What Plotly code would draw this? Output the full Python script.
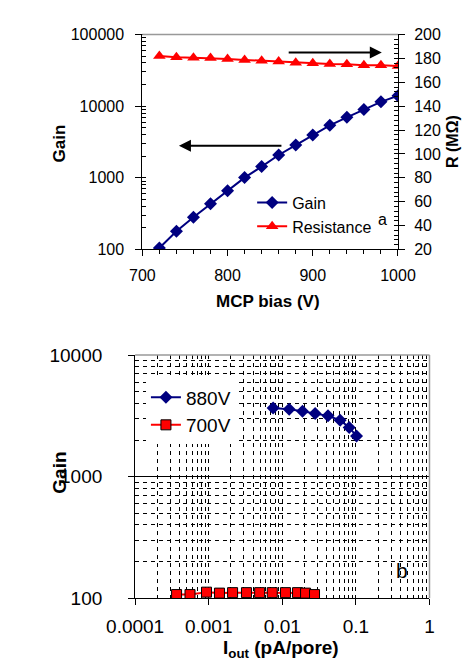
import plotly.graph_objects as go

# ---- panel a data ----
bias_v = [720, 740, 760, 780, 800, 820, 840, 860, 880, 900, 920, 940, 960, 980, 1000]
gain_a = [105, 180, 282, 435, 659, 1007, 1432, 2080, 2866, 3950, 5395, 6985, 8950, 11480, 13990]
resistance = [182, 180.9, 180.5, 180.3, 179.5, 178.7, 177.9, 177.4, 176.3, 175.8, 175.2, 175.0, 174.2, 174.2, 173.6]

# ---- panel b data ----
iout_880 = [0.0075, 0.0124, 0.0188, 0.0279, 0.0418, 0.061, 0.081, 0.102]
gain_880 = [3665, 3580, 3450, 3310, 3160, 2908, 2540, 2153]
iout_700 = [0.000366, 0.000557, 0.000933, 0.0014, 0.00211, 0.00326, 0.00492, 0.0073, 0.01104, 0.0161, 0.0207, 0.0274]
gain_700 = [107, 107, 112, 110, 111, 111, 111, 111, 111, 111, 110, 107]

gain_ticks_a = [100, 1000, 10000, 100000]
r_ticks = [20, 40, 60, 80, 100, 120, 140, 160, 180, 200]
iout_ticks = [0.0001, 0.001, 0.01, 0.1, 1]
iout_labels = ["0.0001", "0.001", "0.01", "0.1", "1"]
gain_ticks_b = [100, 1000, 10000]

FONT = "Liberation Sans, Arial, sans-serif"
W, H = 471, 667
NAVY = "#000080"
RED = "#FF0000"

fig = go.Figure()
fig.add_trace(go.Scatter(
    x=bias_v, y=gain_a, name="Gain", mode="lines+markers",
    line=dict(color=NAVY, width=2),
    marker=dict(symbol="diamond", size=10, color=NAVY),
    xaxis="x", yaxis="y", legend="legend"))
fig.add_trace(go.Scatter(
    x=bias_v, y=resistance, name="Resistance", mode="lines+markers",
    line=dict(color=RED, width=2),
    marker=dict(symbol="triangle-up", size=11, color=RED),
    xaxis="x", yaxis="y2", legend="legend"))
fig.add_trace(go.Scatter(
    x=iout_880, y=gain_880, name="880V", mode="lines+markers",
    line=dict(color=NAVY, width=2),
    marker=dict(symbol="diamond", size=10, color=NAVY),
    xaxis="x2", yaxis="y3", legend="legend2"))
fig.add_trace(go.Scatter(
    x=iout_700, y=gain_700, name="700V", mode="lines+markers",
    line=dict(color=RED, width=2),
    marker=dict(symbol="square", size=10, color=RED, line=dict(color="black", width=1)),
    xaxis="x2", yaxis="y3", legend="legend2"))

def px(x):
    return x / W

def py(y):
    return 1 - y / H

axis_common = dict(showline=True, linecolor="black", linewidth=1, zeroline=False,
                   tickcolor="black", ticks="outside")

fig.update_layout(
    width=W, height=H, margin=dict(l=0, r=0, t=0, b=0),
    paper_bgcolor="white", plot_bgcolor="white",
    font=dict(family=FONT, color="black"),
    xaxis=dict(domain=[px(117), px(401)], anchor="y", range=[700, 1000], dtick=100,
               ticklen=6, showgrid=False, tickfont=dict(size=16), ticklabelstandoff=5,
               minor=dict(dtick=20, ticks="outside", ticklen=4, tickcolor="black"),
               **axis_common),
    yaxis=dict(domain=[py(239), py(17)], anchor="x", type="log", range=[2, 5],
               tickvals=gain_ticks_a, ticktext=[str(v) for v in gain_ticks_a],
               ticklen=6, showgrid=False, tickfont=dict(size=16), ticklabelstandoff=8,
               minor=dict(dtick="D1", ticks="inside", ticklen=4, tickcolor="black"),
               **axis_common),
    yaxis2=dict(overlaying="y", side="right", anchor="x", range=[20, 200],
                tickvals=r_ticks, ticktext=[str(v) for v in r_ticks],
                ticklen=6, showgrid=False, tickfont=dict(size=16), ticklabelstandoff=6,
                minor=dict(dtick=4, ticks="inside", ticklen=4, tickcolor="black"),
                **axis_common),
    xaxis2=dict(domain=[px(109), px(436)], anchor="y3", type="log", range=[-4, 0],
                tickvals=iout_ticks, ticktext=iout_labels, ticklen=6, showgrid=False,
                tickfont=dict(size=19), ticklabelstandoff=5,
                minor=dict(dtick="D1", showgrid=True, gridcolor="black", griddash="4px,4px",
                           gridwidth=1, ticks=""),
                **axis_common),
    yaxis3=dict(domain=[py(599), py(348)], anchor="x2", type="log", range=[2, 4],
                tickvals=gain_ticks_b, ticktext=[str(v) for v in gain_ticks_b],
                ticklen=6, showgrid=True, gridcolor="black", gridwidth=1,
                tickfont=dict(size=19), ticklabelstandoff=22,
                minor=dict(dtick="D1", showgrid=True, gridcolor="black", griddash="4px,4px",
                           gridwidth=1, ticks=""),
                **axis_common),
    legend=dict(x=px(239), y=py(173), xanchor="left", yanchor="top",
                bgcolor="rgba(0,0,0,0)", font=dict(size=16, family=FONT),
                borderwidth=0),
    legend2=dict(x=px(121), y=py(372), xanchor="left", yanchor="top",
                 bgcolor="white", font=dict(size=19, family=FONT),
                 borderwidth=0, tracegroupgap=0),
    showlegend=True,
)

# frame borders (gray) for top of panel a and top/right of panel b
fig.add_shape(type="line", xref="x domain", yref="y domain", x0=0, x1=1, y0=1, y1=1,
              line=dict(color="#999999", width=1.5), layer="above")
fig.add_shape(type="line", xref="x2 domain", yref="y3 domain", x0=0, x1=1, y0=1, y1=1,
              line=dict(color="#999999", width=1.5), layer="above")
fig.add_shape(type="line", xref="x2 domain", yref="y3 domain", x0=1, x1=1, y0=0, y1=1,
              line=dict(color="#999999", width=1.5), layer="above")

ann = []
# arrows in panel a
ann.append(dict(x=743, y=3.446, ax=865, ay=3.446, xref="x", yref="y", axref="x", ayref="y",
                text="", showarrow=True, arrowhead=2, arrowsize=1.2, arrowwidth=2, arrowcolor="black"))
ann.append(dict(x=981, y=4.75, ax=870, ay=4.75, xref="x", yref="y", axref="x", ayref="y",
                text="", showarrow=True, arrowhead=2, arrowsize=1.2, arrowwidth=2, arrowcolor="black"))

def label(text, x, y, size, bold=False, angle=0):
    t = f"<b>{text}</b>" if bold else text
    ann.append(dict(text=t, x=px(x), y=py(y), xref="paper", yref="paper", showarrow=False,
                    xanchor="center", yanchor="middle", textangle=angle,
                    font=dict(size=size, family=FONT, color="black")))

label("Gain", 25, 130, 17, bold=True, angle=-90)
label("R (MΩ)", 461, 127, 16, bold=True, angle=-90)
label("MCP bias (V)", 257, 293, 17, bold=True)
label("a", 384, 208, 16)
label("Gain", 25, 470, 19, bold=True, angle=-90)
label("I<sub>out</sub> (pA/pore)", 271, 651, 19, bold=True)
label("b", 405, 570, 21)

fig.update_layout(annotations=ann)

fig.write_html("out.html")
